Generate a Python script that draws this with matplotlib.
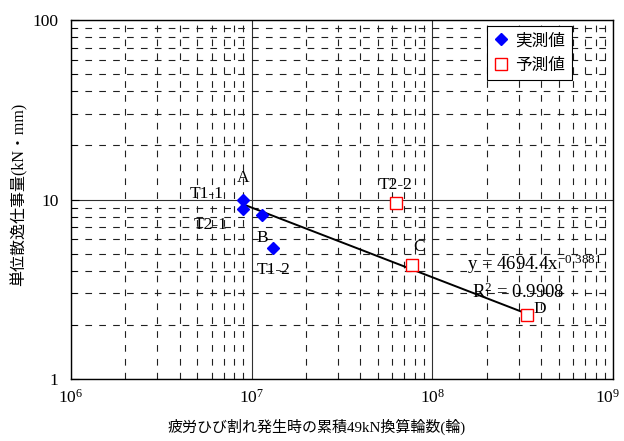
import matplotlib
matplotlib.use('Agg')
import numpy as np
import matplotlib.pyplot as plt
from matplotlib.ticker import LogLocator, LogFormatterSciNotation, NullFormatter
from matplotlib.transforms import ScaledTranslation

plt.rcParams['font.family'] = ['Liberation Serif', 'Noto Sans CJK JP']
plt.rcParams['mathtext.fontset'] = 'custom'
plt.rcParams['mathtext.rm'] = 'Liberation Serif'
plt.rcParams['mathtext.it'] = 'Liberation Serif:italic'

# measured values (blue diamonds)
meas_n = [8.96e6, 8.96e6, 1.14e7, 1.31e7]
meas_u = [9.93, 8.85, 8.2, 5.37]

# predicted values (red squares)
pred_n = [6.3e7, 7.73e7, 3.35e8]
pred_u = [9.58, 4.31, 2.28]

# power fit y = a * x^b
fit_a = 4694.4
fit_b = -0.3881
fit_r2 = 0.9908

# point labels: (text, x, y)
point_labels = [
    ('A', 8.96e6, 13.2),
    ('T1-1', 5.6e6, 10.7),
    ('T2-1', 5.9e6, 7.2),
    ('B', 1.14e7, 6.1),
    ('T1-2', 1.33e7, 4.05),
    ('T2-2', 6.3e7, 12.1),
    ('C', 8.4e7, 5.43),
    ('D', 3.95e8, 2.45),
]

x_ticks = [1e6, 1e7, 1e8, 1e9]
y_ticks = [1, 10, 100]

fig = plt.figure(figsize=(6.24, 4.41), dpi=100)
ax = fig.add_axes([0.1138, 0.1406, 0.8686, 0.814])

ax.set_xscale('log')
ax.set_yscale('log')
ax.set_xlim(1e6, 1e9)
ax.set_ylim(1, 100)

# trend line from the fitted equation
xs = np.logspace(np.log10(meas_n[0]), np.log10(pred_n[-1]), 50)
ax.plot(xs, fit_a * xs ** fit_b, color='k', lw=1.4, zorder=3)

ax.plot(meas_n, meas_u, ls='none', marker='D', ms=6.5, color='#0000ff',
        label='実測値', zorder=4)
ax.plot(pred_n, pred_u, ls='none', marker='s', ms=8.5, mfc='white',
        mec='#ff0000', mew=1.0, label='予測値', zorder=4)

for txt, x, y in point_labels:
    ax.text(x, y, txt, ha='center', va='center', fontsize=12.5, zorder=5)

ax.text(3.66e8, 4.38, 'y = 4694.4x$^{-0.3881}$', ha='center', va='center',
        fontsize=13.5, zorder=5)
ax.text(2.99e8, 3.05, 'R$^{2}$ = %.4f' % fit_r2, ha='center', va='center',
        fontsize=13.5, zorder=5)

# grid: solid at decades, dashed in between
ax.grid(which='major', color='#303030', lw=0.8, ls='-')
ax.grid(which='minor', color='#202020', lw=0.8, ls=(0, (6, 6.5)))
ax.set_axisbelow(True)

ax.set_xticks(x_ticks)
ax.set_yticks(y_ticks)
ax.xaxis.set_minor_locator(LogLocator(base=10, subs=np.arange(2, 10), numticks=10))
ax.yaxis.set_minor_locator(LogLocator(base=10, subs=np.arange(2, 10), numticks=10))
ax.xaxis.set_major_formatter(LogFormatterSciNotation())
ax.xaxis.set_minor_formatter(NullFormatter())
ax.yaxis.set_major_formatter(plt.FuncFormatter(lambda v, p: '%d' % v))
ax.yaxis.set_minor_formatter(NullFormatter())

ax.tick_params(axis='both', which='both', direction='in', labelsize=12.5)
ax.tick_params(axis='x', which='both', length=0, pad=7)
ax.tick_params(axis='y', which='major', length=6, pad=9)
ax.tick_params(axis='y', which='minor', length=4)
ax.tick_params(right=False, top=False)

# pull the last x tick label in a little so it stays inside the figure
last = ax.xaxis.get_major_ticks()[-1].label1
last.set_transform(last.get_transform() +
                   ScaledTranslation(-4 / 72, 0, fig.dpi_scale_trans))

for s in ax.spines.values():
    s.set_linewidth(1.0)
    s.set_color('k')

ax.set_xlabel('疲労ひび割れ発生時の累積49kN換算輪数(輪)', fontsize=10.8)
ax.set_ylabel('単位散逸仕事量(kN・mm)', fontsize=11.5)
ax.xaxis.set_label_coords(0.454, -0.112)
ax.yaxis.set_label_coords(-0.081, 0.515)

leg = ax.legend(loc='upper right', bbox_to_anchor=(0.924, 0.982), fontsize=12,
                frameon=True, fancybox=False, edgecolor='k', framealpha=1,
                handlelength=0.9, handletextpad=0.4, borderpad=0.4,
                labelspacing=0.5, borderaxespad=0)
leg.get_frame().set_linewidth(0.8)

fig.savefig('out.png', dpi=100)
